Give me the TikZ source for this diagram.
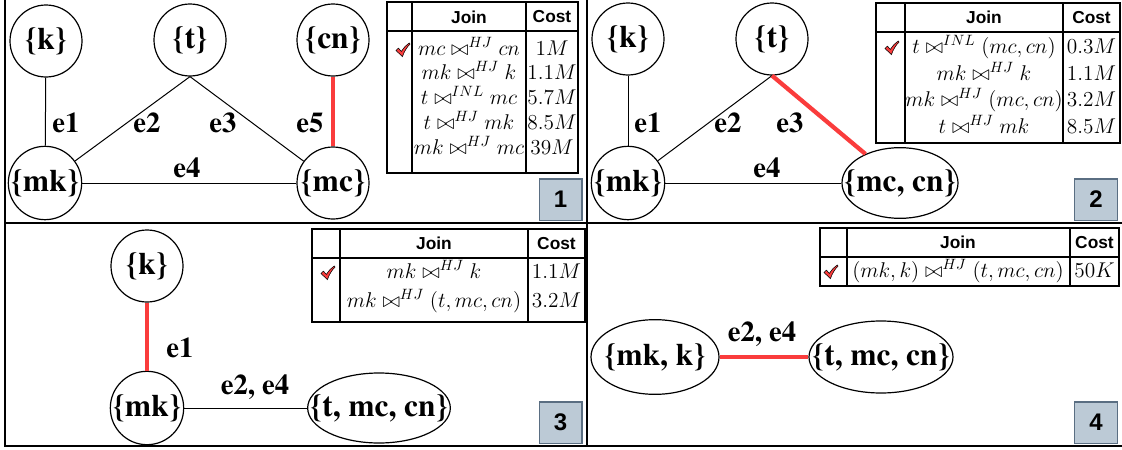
\RequirePackage{fix-cm}
\documentclass[tikz,border=0pt]{standalone}
\usepackage[no-math]{fontspec}
\setmainfont{Liberation Serif}
\newfontfamily\serifbf{texgyretermes}[Extension=.otf, UprightFont=*-regular, BoldFont=*-bold]
\newfontfamily\headfont{Liberation Sans}
\usetikzlibrary{shapes.geometric}

\definecolor{hotred}{RGB}{250,60,60}
\definecolor{tagfill}{RGB}{188,202,214}
\definecolor{tagline}{RGB}{90,110,130}

\newcommand\vfont{\serifbf\fontsize{23.5}{27}\selectfont\bfseries}
\newcommand\efont{\serifbf\fontsize{21.5}{24}\selectfont\bfseries}
\newcommand\hfont{\headfont\fontsize{13}{15}\selectfont\bfseries}
\newcommand\cfont{\fontsize{16}{19}\selectfont}
\newcommand\tagfont{\headfont\fontsize{18}{20}\selectfont\bfseries}

% red tick in the first column of a cost table
\newcommand{\redtick}[1]{%
  \filldraw[fill=hotred, draw=black, line width=0.4pt, shift={(#1)}]
    (-7,0.5) -- (-4.6,-1.8) -- (-1.6,1.4) .. controls (1,-2.5) and (3,-5) .. (6.2,-7)
    -- (7,-5.9) .. controls (3.6,-2.6) and (1.3,1.5) .. (-0.6,6.6) -- cycle;}

\tikzset{
  vtx/.style={circle, draw, line width=0.9pt, minimum size=54pt, inner sep=0pt, font=\vfont},
  vtext/.style={font=\vfont, inner sep=0pt},
  oval/.style={ellipse, draw, line width=0.9pt, inner sep=0pt, label={[vtext]center:#1}},
  edge/.style={line width=0.75pt},
  hot/.style={line width=3.2pt, draw=hotred},
  elab/.style={font=\efont, inner sep=0pt},
  grid/.style={line width=1pt},
  head/.style={font=\hfont, inner sep=0pt},
  cell/.style={font=\cfont, inner sep=0pt, anchor=base},
  tag/.style={draw=tagline, fill=tagfill, line width=1pt, minimum width=32pt,
    minimum height=31pt, inner sep=0pt, font=\tagfont},
  frame/.style={line width=1.9pt}
}

\begin{document}
\begin{tikzpicture}[x=0.75pt, y=-0.75pt]
  \useasboundingbox (0,0) rectangle (1122,450);

  % panel frames
  \draw[frame] (5,0) -- (5,446) -- (1122,446);
  \draw[frame] (587,0) -- (587,446);
  \draw[frame] (5,223) -- (1122,223);

  % panel 1
  \node[vtx] (k1) at (46,41) {\{k\}};
  \node[vtx] (t1) at (190,40) {\{t\}};
  \node[vtx] (cn1) at (333,40) {\{cn\}};
  \node[vtx] (mk1) at (45,183) {\{mk\}};
  \node[vtx] (mc1) at (333,183) {\{mc\}};
  \draw[edge] (k1) -- (mk1);
  \draw[edge] (t1.south) -- (mk1);
  \draw[edge] (t1.south) -- (mc1);
  \draw[edge] (mk1) -- (mc1);
  \draw[hot] (cn1) -- (mc1);
  \node[elab] (la1) at (66,123) {e1};
  \node[elab] (la2) at (147,123) {e2};
  \node[elab] (la3) at (223,123) {e3};
  \node[elab] (la5) at (310,123) {e5};
  \node[elab] (la4) at (187,168) {e4};

  \draw[grid] (387,2) rectangle (578,173);
  \draw[grid] (412,2) -- (412,173) (526,2) -- (526,173) (387,31) -- (578,31);
  \node[head] (ja) at (469,17) {Join};
  \node[head] (ca) at (552,17) {Cost};
  \foreach \y/\jc/\co [count=\i] in {55/{mc \bowtie^{HJ} cn}/1M, 79/{mk \bowtie^{HJ} k}/1.1M,
      104/{t \bowtie^{INL} mc}/5.7M, 129/{t \bowtie^{HJ} mk}/8.5M, 154/{mk \bowtie^{HJ} mc}/39M}{
    \node[cell] (ja\i) at (469,\y) {$\jc$};
    \node[cell] (ca\i) at (552,\y) {$\co$};
  }
  \redtick{403,50}
  \node[tag] (n1) at (560.5,199.5) {1};

  % panel 2
  \node[vtx] (k2) at (628,39) {\{k\}};
  \node[vtx] (t2) at (772,39) {\{t\}};
  \node[vtx] (mk2) at (628,183) {\{mk\}};
  \node[oval={\{mc, cn\}}, minimum width=87pt, minimum height=53pt] (mccn2) at (900,183) {};
  \draw[edge] (k2) -- (mk2);
  \draw[edge] (t2.south) -- (mk2);
  \draw[edge] (mk2) -- (mccn2);
  \draw[hot] (t2.south) -- (mccn2);
  \node[elab] (lb1) at (648,123) {e1};
  \node[elab] (lb2) at (728,123) {e2};
  \node[elab] (lb3) at (790,123) {e3};
  \node[elab] (lb4) at (767,168) {e4};

  \draw[grid] (876,3) rectangle (1120,143);
  \draw[grid] (905,3) -- (905,143) (1063,3) -- (1063,143) (876,32) -- (1120,32);
  \node[head] (jb) at (984,17.5) {Join};
  \node[head] (cb) at (1091.5,17.5) {Cost};
  \foreach \y/\jc/\co [count=\i] in {53/{t \bowtie^{INL} (mc, cn)}/0.3M, 80/{mk \bowtie^{HJ} k}/1.1M,
      106/{mk \bowtie^{HJ} (mc, cn)}/3.2M, 133/{t \bowtie^{HJ} mk}/8.5M}{
    \node[cell] (jb\i) at (984,\y) {$\jc$};
    \node[cell] (cb\i) at (1091.5,\y) {$\co$};
  }
  \redtick{892,48}
  \node[tag] (n2) at (1096,199.5) {2};

  % panel 3
  \node[vtx] (k3) at (147,266) {\{k\}};
  \node[vtx] (mk3) at (147,408) {\{mk\}};
  \node[oval={\{t, mc, cn\}}, minimum width=107pt, minimum height=52.5pt] (tmc3) at (379,408) {};
  \draw[hot] (k3) -- (mk3);
  \draw[edge] (mk3) -- (tmc3);
  \node[elab] (lc1) at (180,348) {e1};
  \node[elab] (lc2) at (255,387) {e2, e4};

  \draw[grid] (312,229) rectangle (585,322);
  \draw[grid] (340,229) -- (340,322) (528,229) -- (528,322) (312,258) -- (585,258);
  \node[head] (jc) at (434,243.5) {Join};
  \node[head] (cc) at (556.5,243.5) {Cost};
  \foreach \y/\jc/\co [count=\i] in {278/{mk \bowtie^{HJ} k}/1.1M, 307/{mk \bowtie^{HJ} (t, mc, cn)}/3.2M}{
    \node[cell] (jc\i) at (434,\y) {$\jc$};
    \node[cell] (cc\i) at (556.5,\y) {$\co$};
  }
  \redtick{328,273}
  \node[tag] (n3) at (560.5,422.5) {3};

  % panel 4
  \node[oval={\{mk, k\}}, minimum width=96pt, minimum height=56pt] (mkk4) at (655,357) {};
  \node[oval={\{t, mc, cn\}}, minimum width=108pt, minimum height=54pt] (tmc4) at (881,357) {};
  \draw[hot] (mkk4) -- (tmc4);
  \node[elab] (ld) at (762,334) {e2, e4};

  \draw[grid] (820,228) rectangle (1119,286);
  \draw[grid] (847,228) -- (847,286) (1070,228) -- (1070,286) (820,257) -- (1119,257);
  \node[head] (jd) at (958,242.5) {Join};
  \node[head] (cd) at (1094.5,242.5) {Cost};
  \node[cell] (jd1) at (958,277) {$(mk, k) \bowtie^{HJ} (t, mc, cn)$};
  \node[cell] (cd1) at (1094.5,277) {$50K$};
  \redtick{831,272}
  \node[tag] (n4) at (1096,422.5) {4};
\end{tikzpicture}
\end{document}
